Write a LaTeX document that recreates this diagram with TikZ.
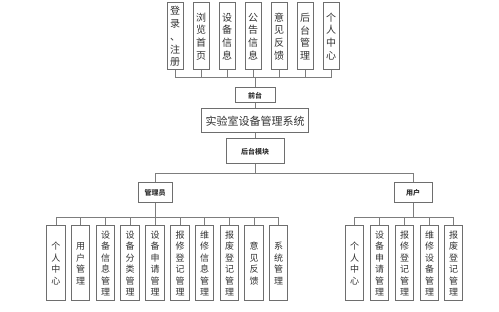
\documentclass[tikz,border=0pt]{standalone}
\usepackage{fontspec}
\setmainfont{Noto Sans CJK SC}
\definecolor{labline}{RGB}{110,110,110}
\definecolor{labwire}{RGB}{125,125,125}
\definecolor{labtext}{RGB}{50,50,50}
\usetikzlibrary{positioning}
\tikzset{
  topbox/.style={rectangle,draw=labline,line width=1pt,fill=white,text=labtext,
                 minimum width=16pt,minimum height=67pt,inner sep=0pt,align=center,
                 font=\fontsize{10}{12.8}\selectfont},
  subbox/.style={rectangle,draw=labline,line width=1pt,fill=white,text=labtext,
                 minimum width=18.5pt,minimum height=75pt,inner sep=0pt,align=center,
                 font=\fontsize{9}{11.5}\selectfont},
  tagbox/.style={rectangle,draw=labline,line width=1pt,fill=white,text=labtext,
                 inner sep=0pt,align=center,font=\fontsize{7}{8}\selectfont\bfseries},
  wire/.style={draw=labwire,line width=0.9pt},
}

\begin{document}
\begin{tikzpicture}[x=1pt,y=1pt]
  \useasboundingbox[fill=white] (0,0) rectangle (499,-312);

  % front page modules
  \node[topbox] (t1) at (175,-36.5) {登\\录\\、\\注\\册};
  \node[topbox] (t2) at (201,-36.5) {浏\\览\\首\\页};
  \node[topbox] (t3) at (227,-36.5) {设\\备\\信\\息};
  \node[topbox] (t4) at (253,-36.5) {公\\告\\信\\息};
  \node[topbox] (t5) at (279,-36.5) {意\\见\\反\\馈};
  \node[topbox] (t6) at (305,-36.5) {后\\台\\管\\理};
  \node[topbox] (t7) at (331,-36.5) {个\\人\\中\\心};

  % spine
  \node[tagbox,minimum width=40pt,minimum height=15pt] (qt) at (255,-95.5) {前台};
  \node[tagbox,minimum width=107pt,minimum height=24pt,
        font=\fontsize{11}{13}\selectfont] (sys) at (255,-121) {实验室设备管理系统};
  \node[tagbox,minimum width=58pt,minimum height=25pt] (ht) at (255,-151.5) {后台模块};

  % roles
  \node[tagbox,minimum width=34pt,minimum height=20pt] (gly) at (155,-193) {管理员};
  \node[tagbox,minimum width=38pt,minimum height=20pt] (yh) at (413,-193) {用户};

  % admin modules
  \node[subbox] (a1)  at (56,-263.5)    {个\\人\\中\\心};
  \node[subbox] (a2)  at (80.5,-263.5)  {用\\户\\管\\理};
  \node[subbox] (a3)  at (105.5,-263.5) {设\\备\\信\\息\\管\\理};
  \node[subbox] (a4)  at (130,-263.5)   {设\\备\\分\\类\\管\\理};
  \node[subbox] (a5)  at (155,-263.5)   {设\\备\\申\\请\\管\\理};
  \node[subbox] (a6)  at (180,-263.5)   {报\\修\\登\\记\\管\\理};
  \node[subbox] (a7)  at (204.5,-263.5) {维\\修\\信\\息\\管\\理};
  \node[subbox] (a8)  at (229.5,-263.5) {报\\废\\登\\记\\管\\理};
  \node[subbox] (a9)  at (254,-263.5)   {意\\见\\反\\馈};
  \node[subbox] (a10) at (278.5,-263.5) {系\\统\\管\\理};

  % user modules
  \node[subbox] (u1) at (354.5,-263.5) {个\\人\\中\\心};
  \node[subbox] (u2) at (379.5,-263.5) {设\\备\\申\\请\\管\\理};
  \node[subbox] (u3) at (404.5,-263.5) {报\\修\\登\\记\\管\\理};
  \node[subbox] (u4) at (429.5,-263.5) {维\\修\\设\\备\\管\\理};
  \node[subbox] (u5) at (453.5,-263.5) {报\\废\\登\\记\\管\\理};

  % connectors
  \coordinate (fj) at (255,-77);
  \coordinate (hj) at (255,-173);
  \coordinate (gj) at (155,-217);
  \coordinate (uj) at (413,-217);
  \foreach \n in {t1,t2,t3,t4,t5,t6,t7}
    \draw[wire] (\n.south) |- (fj);
  \draw[wire] (fj) -- (qt.north);
  \draw[wire] (qt.south) -- (sys.north);
  \draw[wire] (sys.south) -- (ht.north);
  \draw[wire] (ht.south) -- (hj);
  \draw[wire] (gly.north) |- (hj);
  \draw[wire] (yh.north) |- (hj);
  \draw[wire] (gly.south) -- (gj);
  \draw[wire] (yh.south) -- (uj);
  \foreach \n in {a1,a2,a3,a4,a5,a6,a7,a8,a9,a10}
    \draw[wire] (\n.north) |- (gj);
  \foreach \n in {u1,u2,u3,u4,u5}
    \draw[wire] (\n.north) |- (uj);
\end{tikzpicture}
\end{document}
